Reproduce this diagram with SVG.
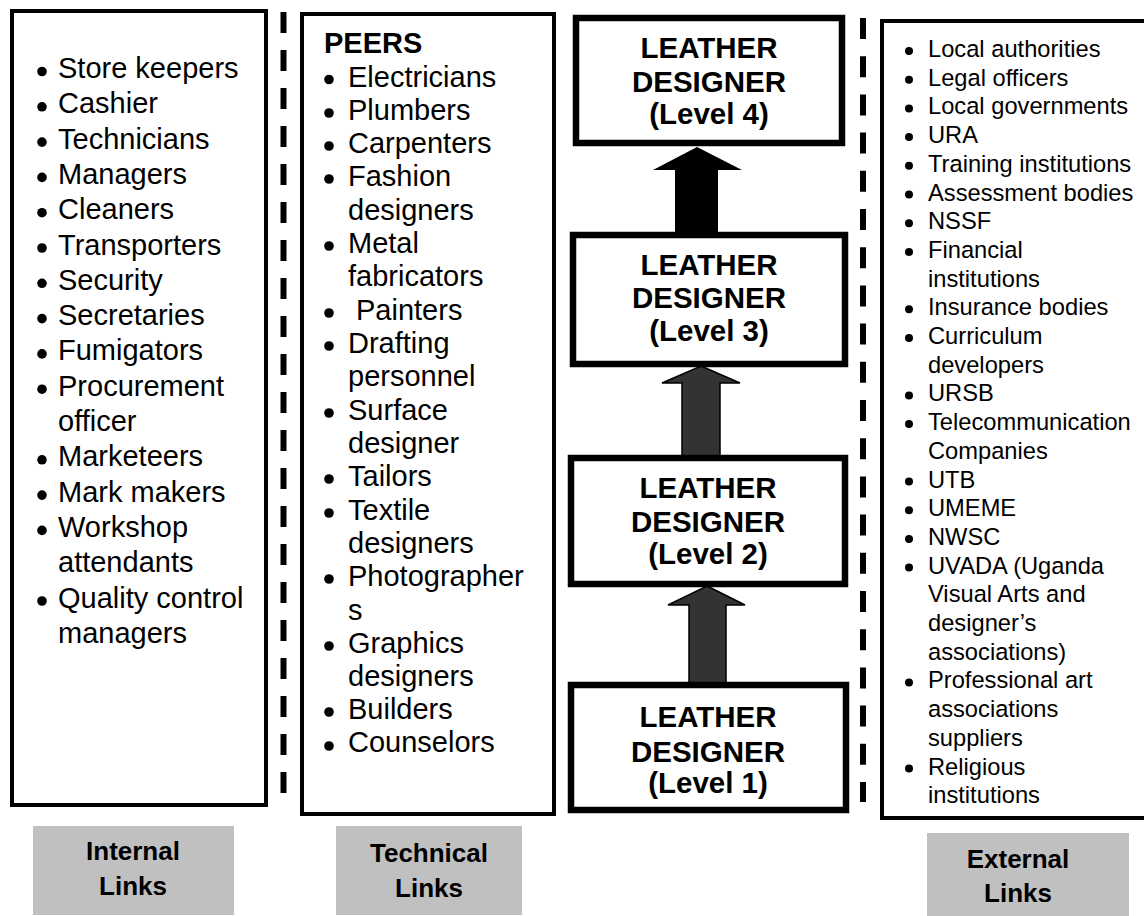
<svg xmlns="http://www.w3.org/2000/svg" width="1144" height="916" viewBox="0 0 1144 916">
<style>
.box{fill:#fff;stroke:#000;stroke-width:4}
.lvl{fill:#fff;stroke:#000;stroke-width:6.5}
.lab{fill:#c0c0c0}
.t{font-family:"Liberation Sans",Arial,sans-serif;fill:#000}
.big{font-size:29px}
.sm{font-size:23.7px}
.b{font-weight:bold}
.lv{font-size:29.5px;font-weight:bold;text-anchor:middle}
.lt{font-size:26px;font-weight:bold;text-anchor:middle}
.dash{stroke:#000;stroke-width:6;fill:none}
.bul{fill:#000}
</style>
<rect width="1144" height="916" fill="#fff"/>

<g id="dividers">
<line class="dash" x1="283.5" y1="12" x2="283.5" y2="795" stroke-dasharray="21 17"/>
<line class="dash" x1="863" y1="18" x2="863" y2="802" stroke-dasharray="21 17.2"/>
</g>

<g id="internal">
<rect class="box" x="12" y="11" width="254" height="794"/>
<g class="bul">
<circle cx="42" cy="71.5" r="4.8"/><circle cx="42" cy="106.8" r="4.8"/><circle cx="42" cy="142.1" r="4.8"/><circle cx="42" cy="177.4" r="4.8"/><circle cx="42" cy="212.7" r="4.8"/><circle cx="42" cy="248" r="4.8"/><circle cx="42" cy="283.3" r="4.8"/><circle cx="42" cy="318.6" r="4.8"/><circle cx="42" cy="353.9" r="4.8"/><circle cx="42" cy="389.2" r="4.8"/><circle cx="42" cy="459.8" r="4.8"/><circle cx="42" cy="495.1" r="4.8"/><circle cx="42" cy="530.4" r="4.8"/><circle cx="42" cy="601" r="4.8"/>
</g>
<text class="t big">
<tspan x="58" y="78">Store keepers</tspan>
<tspan x="58" y="113.3">Cashier</tspan>
<tspan x="58" y="148.6">Technicians</tspan>
<tspan x="58" y="183.9">Managers</tspan>
<tspan x="58" y="219.2">Cleaners</tspan>
<tspan x="58" y="254.5">Transporters</tspan>
<tspan x="58" y="289.8">Security</tspan>
<tspan x="58" y="325.1">Secretaries</tspan>
<tspan x="58" y="360.4">Fumigators</tspan>
<tspan x="58" y="395.7">Procurement</tspan>
<tspan x="58" y="431">officer</tspan>
<tspan x="58" y="466.3">Marketeers</tspan>
<tspan x="58" y="501.6">Mark makers</tspan>
<tspan x="58" y="536.9">Workshop</tspan>
<tspan x="58" y="572.2">attendants</tspan>
<tspan x="58" y="607.5">Quality control</tspan>
<tspan x="58" y="642.8">managers</tspan>
</text>
</g>

<g id="technical">
<rect class="box" x="302" y="14" width="252" height="800"/>
<text class="t big b" x="324" y="53">PEERS</text>
<g class="bul">
<circle cx="329" cy="79.5" r="4.8"/><circle cx="329" cy="113" r="4.8"/><circle cx="329" cy="146" r="4.8"/><circle cx="329" cy="179" r="4.8"/><circle cx="329" cy="246" r="4.8"/><circle cx="329" cy="313" r="4.8"/><circle cx="329" cy="346" r="4.8"/><circle cx="329" cy="413" r="4.8"/><circle cx="329" cy="479" r="4.8"/><circle cx="329" cy="513" r="4.8"/><circle cx="329" cy="579" r="4.8"/><circle cx="329" cy="646" r="4.8"/><circle cx="329" cy="712" r="4.8"/><circle cx="329" cy="746" r="4.8"/>
</g>
<text class="t big">
<tspan x="348" y="86.5">Electricians</tspan>
<tspan x="348" y="120">Plumbers</tspan>
<tspan x="348" y="153">Carpenters</tspan>
<tspan x="348" y="186">Fashion</tspan>
<tspan x="348" y="220">designers</tspan>
<tspan x="348" y="253">Metal</tspan>
<tspan x="348" y="286">fabricators</tspan>
<tspan x="356" y="320">Painters</tspan>
<tspan x="348" y="353">Drafting</tspan>
<tspan x="348" y="386">personnel</tspan>
<tspan x="348" y="420">Surface</tspan>
<tspan x="348" y="453">designer</tspan>
<tspan x="348" y="486">Tailors</tspan>
<tspan x="348" y="520">Textile</tspan>
<tspan x="348" y="553">designers</tspan>
<tspan x="348" y="586">Photographer</tspan>
<tspan x="348" y="620">s</tspan>
<tspan x="348" y="653">Graphics</tspan>
<tspan x="348" y="686">designers</tspan>
<tspan x="348" y="719">Builders</tspan>
<tspan x="348" y="752">Counselors</tspan>
</text>
</g>

<g id="connectors">
<polygon points="697,147 742,170 718,170 718,233 675,233 675,170 653,170" fill="#000"/>
<polygon points="701,366 740,383 720,383 720,457 682,457 682,383 662,383" fill="#333" stroke="#000" stroke-width="1.5"/>
<polygon points="707,586 745,605 726,605 726,684 689,684 689,605 668,605" fill="#333" stroke="#000" stroke-width="1.5"/>
</g>

<g id="level4">
<rect class="lvl" x="576" y="18" width="266" height="125"/>
<text class="t lv"><tspan x="709" y="58">LEATHER</tspan><tspan x="709" y="92">DESIGNER</tspan><tspan x="709" y="124">(Level 4)</tspan></text>
</g>
<g id="level3">
<rect class="lvl" x="573" y="235" width="272" height="129"/>
<text class="t lv"><tspan x="709" y="275">LEATHER</tspan><tspan x="709" y="308">DESIGNER</tspan><tspan x="709" y="341">(Level 3)</tspan></text>
</g>
<g id="level2">
<rect class="lvl" x="571" y="458" width="274" height="126"/>
<text class="t lv"><tspan x="708" y="498">LEATHER</tspan><tspan x="708" y="532">DESIGNER</tspan><tspan x="708" y="564">(Level 2)</tspan></text>
</g>
<g id="level1">
<rect class="lvl" x="571" y="685" width="275" height="125"/>
<text class="t lv"><tspan x="708" y="727">LEATHER</tspan><tspan x="708" y="762">DESIGNER</tspan><tspan x="708" y="793">(Level 1)</tspan></text>
</g>

<g id="external">
<rect class="box" x="882" y="21" width="300" height="797"/>
<g class="bul">
<circle cx="909" cy="51" r="4"/><circle cx="909" cy="79.7" r="4"/><circle cx="909" cy="108.4" r="4"/><circle cx="909" cy="137.1" r="4"/><circle cx="909" cy="165.8" r="4"/><circle cx="909" cy="194.5" r="4"/><circle cx="909" cy="223.2" r="4"/><circle cx="909" cy="251.9" r="4"/><circle cx="909" cy="309.3" r="4"/><circle cx="909" cy="338" r="4"/><circle cx="909" cy="395.4" r="4"/><circle cx="909" cy="424.1" r="4"/><circle cx="909" cy="481.5" r="4"/><circle cx="909" cy="510.2" r="4"/><circle cx="909" cy="538.9" r="4"/><circle cx="909" cy="567.6" r="4"/><circle cx="909" cy="682.4" r="4"/><circle cx="909" cy="768.5" r="4"/>
</g>
<text class="t sm">
<tspan x="928" y="57">Local authorities</tspan>
<tspan x="928" y="85.7">Legal officers</tspan>
<tspan x="928" y="114.4">Local governments</tspan>
<tspan x="928" y="143.1">URA</tspan>
<tspan x="928" y="171.8">Training institutions</tspan>
<tspan x="928" y="200.5">Assessment bodies</tspan>
<tspan x="928" y="229.2">NSSF</tspan>
<tspan x="928" y="257.9">Financial</tspan>
<tspan x="928" y="286.6">institutions</tspan>
<tspan x="928" y="315.3">Insurance bodies</tspan>
<tspan x="928" y="344">Curriculum</tspan>
<tspan x="928" y="372.7">developers</tspan>
<tspan x="928" y="401.4">URSB</tspan>
<tspan x="928" y="430.1">Telecommunication</tspan>
<tspan x="928" y="458.8">Companies</tspan>
<tspan x="928" y="487.5">UTB</tspan>
<tspan x="928" y="516.2">UMEME</tspan>
<tspan x="928" y="544.9">NWSC</tspan>
<tspan x="928" y="573.6">UVADA (Uganda</tspan>
<tspan x="928" y="602.3">Visual Arts and</tspan>
<tspan x="928" y="631">designer’s</tspan>
<tspan x="928" y="659.7">associations)</tspan>
<tspan x="928" y="688.4">Professional art</tspan>
<tspan x="928" y="717.1">associations</tspan>
<tspan x="928" y="745.8">suppliers</tspan>
<tspan x="928" y="774.5">Religious</tspan>
<tspan x="928" y="803.2">institutions</tspan>
</text>
</g>

<g id="label-internal">
<rect class="lab" x="33" y="826" width="201" height="89"/>
<text class="t lt"><tspan x="133" y="860">Internal</tspan><tspan x="133" y="895">Links</tspan></text>
</g>
<g id="label-technical">
<rect class="lab" x="336" y="826" width="186" height="89"/>
<text class="t lt"><tspan x="429" y="862">Technical</tspan><tspan x="429" y="897">Links</tspan></text>
</g>
<g id="label-external">
<rect class="lab" x="927" y="833" width="202" height="90"/>
<text class="t lt"><tspan x="1018" y="868">External</tspan><tspan x="1018" y="902">Links</tspan></text>
</g>
</svg>
